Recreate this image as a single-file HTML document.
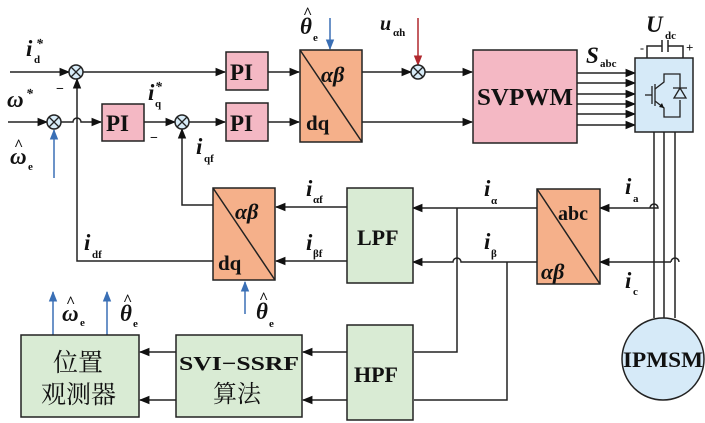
<!DOCTYPE html>
<html><head><meta charset="utf-8"><style>
html,body{margin:0;padding:0;background:#fff}
svg{display:block}
text{font-family:"Liberation Serif","Noto Serif CJK SC",serif;fill:#111}
.b{font-weight:bold}
.i{font-style:italic;font-weight:bold}
.s{font-size:11px;font-weight:bold;font-style:normal}
.h{font-size:16px;font-weight:bold;font-style:normal}
</style></head><body>
<svg width="705" height="423" viewBox="0 0 705 423" xmlns="http://www.w3.org/2000/svg">
<defs>
<marker id="a" viewBox="0 0 10 10" refX="9" refY="5" markerWidth="7" markerHeight="7" orient="auto"><path d="M0,1 L10,5 L0,9 z" fill="#111"/></marker>
<marker id="bl" viewBox="0 0 10 10" refX="9" refY="5" markerWidth="7" markerHeight="7" orient="auto"><path d="M0,1 L10,5 L0,9 z" fill="#3a6fb5"/></marker>
<marker id="rd" viewBox="0 0 10 10" refX="9" refY="5" markerWidth="7" markerHeight="7" orient="auto"><path d="M0,1 L10,5 L0,9 z" fill="#b0282e"/></marker>
</defs>
<g stroke="#222" stroke-width="1.5" fill="none">
<line x1="10" y1="72" x2="69" y2="72" marker-end="url(#a)"/>
<line x1="83" y1="72" x2="225" y2="72" marker-end="url(#a)"/>
<line x1="268" y1="72" x2="299" y2="72" marker-end="url(#a)"/>
<line x1="362" y1="72" x2="411" y2="72" marker-end="url(#a)"/>
<line x1="425" y1="72" x2="472" y2="72" marker-end="url(#a)"/>
<line x1="8" y1="122" x2="47" y2="122" marker-end="url(#a)"/>
<path d="M61,122 H73 a4,4 0 0 1 8,0 H101" marker-end="url(#a)"/>
<line x1="144" y1="122" x2="175" y2="122" marker-end="url(#a)"/>
<line x1="189" y1="122" x2="225" y2="122" marker-end="url(#a)"/>
<line x1="268" y1="122" x2="299" y2="122" marker-end="url(#a)"/>
<line x1="362" y1="122" x2="472" y2="122" marker-end="url(#a)"/>
<path d="M213,261 H77 V79" marker-end="url(#a)"/>
<path d="M213,205 H182 V129" marker-end="url(#a)"/>
<line x1="577" y1="73" x2="635" y2="73" marker-end="url(#a)"/>
<line x1="577" y1="83" x2="635" y2="83" marker-end="url(#a)"/>
<line x1="577" y1="94" x2="635" y2="94" marker-end="url(#a)"/>
<line x1="577" y1="104" x2="635" y2="104" marker-end="url(#a)"/>
<line x1="577" y1="114" x2="635" y2="114" marker-end="url(#a)"/>
<line x1="577" y1="125" x2="635" y2="125" marker-end="url(#a)"/>
<line x1="654" y1="132" x2="654" y2="318"/>
<line x1="664" y1="132" x2="664" y2="318"/>
<line x1="675" y1="132" x2="675" y2="318"/>
<path d="M650,208 a4,4 0 0 1 8,0 H600" marker-end="url(#a)"/>
<path d="M671,262 a4,4 0 0 1 8,0"/>
<line x1="671" y1="262" x2="600" y2="262" marker-end="url(#a)"/>
<line x1="537" y1="208" x2="413" y2="208" marker-end="url(#a)"/>
<path d="M537,262 H461 a4,4 0 0 0 -8,0 H413" marker-end="url(#a)"/>
<path d="M457,208 V352 H414"/>
<path d="M507,262 V400 H414"/>
<line x1="347" y1="207" x2="276" y2="207" marker-end="url(#a)"/>
<line x1="347" y1="261" x2="276" y2="261" marker-end="url(#a)"/>
<line x1="347" y1="352" x2="303" y2="352" marker-end="url(#a)"/>
<line x1="347" y1="400" x2="303" y2="400" marker-end="url(#a)"/>
<line x1="176" y1="352" x2="140" y2="352" marker-end="url(#a)"/>
<line x1="176" y1="400" x2="140" y2="400" marker-end="url(#a)"/>
<path d="M647,58 V46 H662 M668,46 H683 V58"/>
<line x1="662" y1="40" x2="662" y2="52"/>
<line x1="668" y1="40" x2="668" y2="52"/>
</g>
<g stroke="#3a6fb5" stroke-width="1.5">
<line x1="54" y1="178" x2="54" y2="130" marker-end="url(#bl)"/>
<line x1="330" y1="18" x2="330" y2="49" marker-end="url(#bl)"/>
<line x1="245" y1="314" x2="245" y2="282" marker-end="url(#bl)"/>
<line x1="53" y1="335" x2="53" y2="292" marker-end="url(#bl)"/>
<line x1="107" y1="335" x2="107" y2="292" marker-end="url(#bl)"/>
</g>
<line x1="418" y1="18" x2="418" y2="65" stroke="#b0282e" stroke-width="1.5" marker-end="url(#rd)"/>
<g fill="#d8ecf8" stroke="#222" stroke-width="1.5">
<circle cx="76" cy="72" r="7"/><circle cx="54" cy="122" r="7"/><circle cx="182" cy="122" r="7"/><circle cx="418" cy="72" r="7"/>
</g>
<g stroke="#222" stroke-width="1.3">
<path d="M71,67 l10,10 M81,67 l-10,10 M49,117 l10,10 M59,117 l-10,10 M177,117 l10,10 M187,117 l-10,10 M413,67 l10,10 M423,67 l-10,10"/>
</g>
<g stroke="#222" stroke-width="1.5">
<rect x="226" y="52" width="42" height="38" fill="#f4b8c4"/>
<rect x="226" y="103" width="42" height="38" fill="#f4b8c4"/>
<rect x="102" y="104" width="42" height="37" fill="#f4b8c4"/>
<rect x="473" y="50" width="104" height="93" fill="#f4b8c4"/>
<rect x="300" y="50" width="62" height="92" fill="#f5b08a"/>
<line x1="300" y1="50" x2="362" y2="142"/>
<rect x="213" y="188" width="62" height="92" fill="#f5b08a"/>
<line x1="213" y1="188" x2="275" y2="280"/>
<rect x="537" y="189" width="63" height="95" fill="#f5b08a"/>
<line x1="537" y1="189" x2="600" y2="284"/>
<rect x="347" y="188" width="66" height="95" fill="#d9ebd4"/>
<rect x="347" y="325" width="66" height="95" fill="#d9ebd4"/>
<rect x="176" y="335" width="126" height="82" fill="#d9ebd4"/>
<rect x="21" y="335" width="118" height="82" fill="#d9ebd4"/>
<rect x="635" y="58" width="58" height="74" fill="#d6eaf8"/>
<circle cx="663" cy="359" r="41" fill="#d6eaf8"/>
</g>
<g stroke="#222" stroke-width="1.3" fill="none">
<line x1="645" y1="95" x2="652" y2="95"/><line x1="652" y1="86" x2="652" y2="104"/><line x1="655" y1="84" x2="655" y2="106"/>
<path d="M655,89 L664,82 V74 H680 V88 M655,101 L664,108 V117 H680 V100"/>
<path d="M673,88 H687 M680,88 L674,98 H686 Z"/>
</g>
<path d="M664,108 l-5,-1 l3,-4z" fill="#111"/>
<g class="b" font-size="23">
<text x="230" y="80">PI</text><text x="230" y="131">PI</text><text x="106" y="131">PI</text>
<text x="477" y="105" font-size="24" textLength="96" lengthAdjust="spacingAndGlyphs">SVPWM</text>
<text x="357" y="245" font-size="22">LPF</text>
<text x="354" y="382" font-size="22">HPF</text>
<text x="179" y="370" font-size="20" textLength="120" lengthAdjust="spacingAndGlyphs">SVI−SSRF</text>
<text x="213" y="402" font-size="24" font-weight="normal">算法</text>
<text x="53" y="371" font-size="25" font-weight="normal">位置</text>
<text x="41" y="403" font-size="25" font-weight="normal">观测器</text>
<text x="623" y="367" font-size="22" textLength="80" lengthAdjust="spacingAndGlyphs">IPMSM</text>
<text x="321" y="82" class="i" font-size="22">αβ</text>
<text x="306" y="130" font-size="21">dq</text>
<text x="235" y="219" class="i" font-size="22">αβ</text>
<text x="218" y="270" font-size="21">dq</text>
<text x="558" y="220" font-size="20">abc</text>
<text x="541" y="279" class="i" font-size="22">αβ</text>
</g>
<g class="i" font-size="23">
<text x="26" y="56">i</text><text x="36" y="48" font-size="14">*</text><text x="34" y="63" class="s">d</text>
<text x="7" y="107">ω</text><text x="26" y="98" font-size="14">*</text>
<text x="10" y="164">ω</text><text x="14" y="150" class="h">^</text><text x="28" y="170" class="s">e</text>
<text x="148" y="100">i</text><text x="155" y="91" font-size="14">*</text><text x="155" y="107" class="s">q</text>
<text x="196" y="154">i</text><text x="204" y="162" class="s">qf</text>
<text x="300" y="34">θ</text><text x="303" y="18" class="h">^</text><text x="313" y="41" class="s">e</text>
<text x="380" y="30" font-size="20">u</text><text x="393" y="36" class="s">αh</text>
<text x="586" y="63">S</text><text x="600" y="67" class="s">abc</text>
<text x="646" y="32">U</text><text x="665" y="39" class="s">dc</text>
<text x="306" y="196">i</text><text x="313" y="203" class="s">αf</text>
<text x="306" y="250">i</text><text x="313" y="257" class="s">βf</text>
<text x="84" y="250">i</text><text x="92" y="258" class="s">df</text>
<text x="484" y="196">i</text><text x="491" y="204" class="s">α</text>
<text x="484" y="249">i</text><text x="491" y="257" class="s">β</text>
<text x="625" y="194">i</text><text x="633" y="202" class="s">a</text>
<text x="625" y="288">i</text><text x="633" y="295" class="s">c</text>
<text x="62" y="321">ω</text><text x="66" y="307" class="h">^</text><text x="80" y="326" class="s">e</text>
<text x="120" y="321">θ</text><text x="123" y="305" class="h">^</text><text x="133" y="327" class="s">e</text>
<text x="256" y="319">θ</text><text x="259" y="303" class="h">^</text><text x="269" y="327" class="s">e</text>
</g>
<g font-size="14" class="b"><text x="56" y="93">−</text><text x="150" y="142">−</text>
<text x="640" y="52" font-size="12">-</text><text x="686" y="52" font-size="13">+</text></g>
</svg>
</body></html>
